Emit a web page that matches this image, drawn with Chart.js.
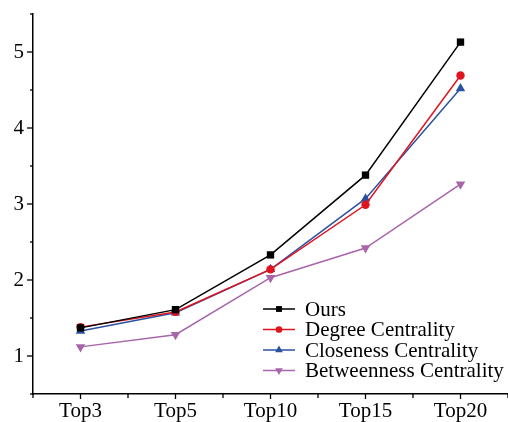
<!DOCTYPE html>
<html>
<head>
<meta charset="utf-8">
<script src="https://cdn.jsdelivr.net/npm/chart.js@4"></script>
<style>
html,body{margin:0;padding:0;background:#fff;}
#wrap{width:508px;height:422px;}
</style>
</head>
<body>
<div id="wrap"><canvas id="c" width="508" height="422"></canvas></div>
<script>
const categories = ['Top3', 'Top5', 'Top10', 'Top15', 'Top20'];
const seriesNames = ['Ours', 'Degree Centrality', 'Closeness Centrality', 'Betweenness Centrality'];
const ours = [1.37, 1.61, 2.33, 3.38, 5.13];
const degree = [1.38, 1.58, 2.14, 2.99, 4.69];
const closeness = [1.33, 1.57, 2.14, 3.07, 4.52];
const betweenness = [1.12, 1.28, 2.03, 2.42, 3.26];
const yTickValues = [1, 2, 3, 4, 5];

const FONT = "'Liberation Serif', 'Times New Roman', serif";
const colors = ['#000000', '#e0141e', '#2a52a3', '#a865aa'];
const styles = [
  {pointStyle: 'rect', radius: 5.2, rotation: 0},
  {pointStyle: 'circle', radius: 4.2, rotation: 0},
  {pointStyle: 'triangle', radius: 5.5, rotation: 0},
  {pointStyle: 'triangle', radius: 5.5, rotation: 180}
];
const values = [ours, degree, closeness, betweenness];

const datasets = values.map((v, i) => ({
  label: seriesNames[i],
  data: v,
  borderColor: colors[i],
  backgroundColor: colors[i],
  borderWidth: 1.5,
  pointStyle: styles[i].pointStyle,
  pointRadius: styles[i].radius,
  pointRotation: styles[i].rotation,
  pointBorderWidth: 0,
  pointBackgroundColor: colors[i],
  tension: 0,
  fill: false,
  clip: false
}));

const tickPlugin = {
  id: 'ticksAndLegend',
  afterDraw(chart) {
    const ctx = chart.ctx;
    const xs = chart.scales.x, ys = chart.scales.y;
    ctx.save();
    ctx.strokeStyle = '#000';
    ctx.lineWidth = 1.3;
    ys.ticks.forEach(t => {
      const p = ys.getPixelForValue(t.value);
      const major = yTickValues.includes(t.value);
      const len = major ? 6 : 3;
      ctx.beginPath();
      ctx.moveTo(ys.right - len, p);
      ctx.lineTo(ys.right, p);
      ctx.stroke();
    });
    const n = categories.length;
    const step = xs.getPixelForValue(1) - xs.getPixelForValue(0);
    for (let i = 0; i < n; i++) {
      const p = xs.getPixelForValue(i);
      ctx.beginPath();
      ctx.moveTo(p, xs.top); ctx.lineTo(p, xs.top + 5); ctx.stroke();
    }
    for (let i = 0; i <= n; i++) {
      const p = xs.getPixelForValue(0) + (i - 0.5) * step;
      ctx.beginPath();
      ctx.moveTo(p, xs.top); ctx.lineTo(p, xs.top + 4); ctx.stroke();
    }
    const lx = 263, ly = 309, dy = 20.5;
    ctx.font = '21px ' + FONT;
    ctx.textBaseline = 'middle';
    ctx.textAlign = 'left';
    chart.data.datasets.forEach((ds, i) => {
      const y = ly + i * dy;
      ctx.strokeStyle = ds.borderColor;
      ctx.lineWidth = 1.5;
      ctx.beginPath();
      ctx.moveTo(lx, y); ctx.lineTo(lx + 32, y); ctx.stroke();
      ctx.fillStyle = ds.borderColor;
      Chart.helpers.drawPoint(ctx, {
        pointStyle: ds.pointStyle,
        radius: ds.pointRadius * 0.8,
        rotation: ds.pointRotation,
        borderWidth: 0
      }, lx + 16, y);
      ctx.fillStyle = '#000';
      ctx.fillText(ds.label, lx + 42, y + 1);
    });
    ctx.restore();
  }
};

new Chart(document.getElementById('c'), {
  type: 'line',
  data: {labels: categories, datasets},
  options: {
    responsive: false,
    animation: false,
    layout: {autoPadding: false, padding: {top: 14, right: 0, left: 0, bottom: 0}},
    plugins: {legend: {display: false}, tooltip: {enabled: false}},
    scales: {
      x: {
        type: 'category',
        offset: true,
        grid: {display: false, drawTicks: false},
        border: {display: true, color: '#000', width: 1.5},
        ticks: {color: '#000', font: {family: FONT, size: 21}, padding: 5, maxRotation: 0, autoSkip: false},
        afterFit(s) { s.height = 28; s.paddingLeft = 0; s.paddingRight = 0; }
      },
      y: {
        min: 0.5, max: 5.5,
        grid: {display: false, drawTicks: false},
        border: {display: true, color: '#000', width: 1.5},
        ticks: {
          stepSize: 0.5,
          autoSkip: false,
          color: '#000',
          font: {family: FONT, size: 21},
          padding: 9,
          callback: v => yTickValues.includes(v) ? String(v) : ''
        },
        afterFit(s) { s.width = 33; s.paddingTop = 0; s.paddingBottom = 0; }
      }
    }
  },
  plugins: [tickPlugin]
});
</script>
</body>
</html>
